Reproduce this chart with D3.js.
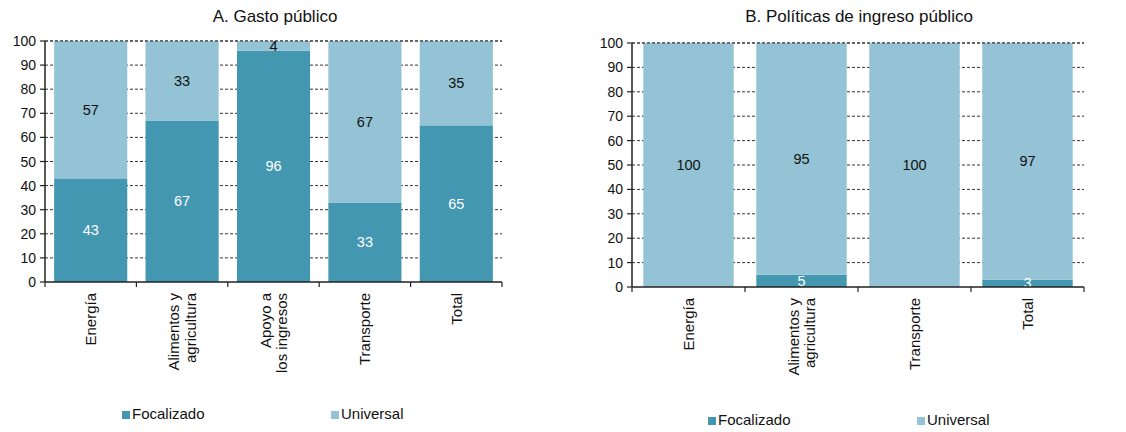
<!DOCTYPE html>
<html><head><meta charset="utf-8">
<script src="https://cdn.jsdelivr.net/npm/d3@7"></script>
<style>body{margin:0;background:#fff}svg{display:block;font-family:"Liberation Sans",Arial,sans-serif}</style>
</head><body><svg id="c" width="1126" height="432"></svg>
<script>
const catsA = [["Energía"],["Alimentos y","agricultura"],["Apoyo a","los ingresos"],["Transporte"],["Total"]];
const focA = [43,67,96,33,65];
const uniA = [57,33,4,67,35];
const catsB = [["Energía"],["Alimentos y","agricultura"],["Transporte"],["Total"]];
const focB = [0,5,0,3];
const uniB = [100,95,100,97];
const yTicks = [0,10,20,30,40,50,60,70,80,90,100];
const seriesNames = ["Focalizado","Universal"];
const colors = ["#4397b0","#93c3d5"];

const svg = d3.select("#c");

function panel(cfg){
  const {title, cats, foc, uni, x0, x1, yTop, yBot, titleX, legend} = cfg;
  const g = svg.append("g");
  const x = d3.scaleBand().domain(d3.range(cats.length)).range([x0,x1]).paddingInner(0.2).paddingOuter(0.1);
  const y = d3.scaleLinear().domain([0,100]).range([yBot,yTop]);
  const step = x.step();
  g.selectAll("line.grid").data(yTicks.filter(d=>d>0)).join("line")
    .attr("x1",x0).attr("x2",x1).attr("y1",d=>y(d)).attr("y2",d=>y(d))
    .attr("stroke","#333").attr("stroke-width",1).attr("stroke-dasharray","3,2");
  const idx = d3.range(cats.length);
  g.selectAll("rect.f").data(idx).join("rect")
    .attr("x",i=>x(i)).attr("width",x.bandwidth())
    .attr("y",i=>y(foc[i])).attr("height",i=>y(0)-y(foc[i])).attr("fill",colors[0]);
  g.selectAll("rect.u").data(idx).join("rect")
    .attr("x",i=>x(i)).attr("width",x.bandwidth())
    .attr("y",i=>y(foc[i]+uni[i])).attr("height",i=>y(foc[i])-y(foc[i]+uni[i])).attr("fill",colors[1]);
  g.append("line").attr("x1",x0).attr("x2",x1).attr("y1",y(100)).attr("y2",y(100))
    .attr("stroke","#333").attr("stroke-width",1).attr("stroke-dasharray","3,2");
  idx.forEach(i=>{
    if(foc[i]>0) g.append("text").attr("x",x(i)+x.bandwidth()/2).attr("y",y(foc[i]/2))
      .attr("text-anchor","middle").attr("dominant-baseline","central").attr("fill","#fff")
      .attr("font-size",14.5).text(foc[i]);
    if(uni[i]>0) g.append("text").attr("x",x(i)+x.bandwidth()/2).attr("y",y(foc[i]+uni[i]/2))
      .attr("text-anchor","middle").attr("dominant-baseline","central").attr("fill","#111")
      .attr("font-size",14.5).text(uni[i]);
  });
  g.append("line").attr("x1",x0).attr("x2",x0).attr("y1",y(100)).attr("y2",y(0)).attr("stroke","#222").attr("stroke-width",1.5);
  g.selectAll("line.yt").data(yTicks).join("line")
    .attr("x1",x0-5).attr("x2",x0).attr("y1",d=>y(d)).attr("y2",d=>y(d)).attr("stroke","#222").attr("stroke-width",1.2);
  g.selectAll("text.yl").data(yTicks).join("text")
    .attr("x",x0-9).attr("y",d=>y(d)).attr("text-anchor","end").attr("dominant-baseline","central")
    .attr("font-size",14).attr("fill","#111").text(d=>d);
  g.append("line").attr("x1",x0).attr("x2",x1).attr("y1",y(0)).attr("y2",y(0)).attr("stroke","#222").attr("stroke-width",1.5);
  g.selectAll("line.xt").data(d3.range(cats.length+1)).join("line")
    .attr("x1",i=>x0+i*step).attr("x2",i=>x0+i*step).attr("y1",y(0)).attr("y2",y(0)+5).attr("stroke","#222").attr("stroke-width",1.2);
  idx.forEach(i=>{
    const lines = cats[i];
    const cx = x(i)+x.bandwidth()/2;
    const lh = 16.5;
    const t = g.append("text").attr("transform",`translate(${cx},${y(0)+11}) rotate(-90)`)
      .attr("text-anchor","end").attr("font-size",15).attr("fill","#111");
    lines.forEach((l,k)=>{
      t.append("tspan").attr("x",0).attr("y",(k-(lines.length-1)/2)*lh).attr("dy","0.35em").text(l);
    });
  });
  g.append("text").attr("x",titleX).attr("y",22).attr("text-anchor","middle").attr("font-size",17).attr("fill","#111").text(title);
  legend.forEach((L,k)=>{
    g.append("rect").attr("x",L.x).attr("y",L.y-8).attr("width",8).attr("height",8).attr("fill",colors[k]);
    g.append("text").attr("x",L.x+10).attr("y",L.y).attr("font-size",15).attr("fill","#111").text(seriesNames[k]);
  });
}

panel({title:"A. Gasto público", cats:catsA, foc:focA, uni:uniA, x0:45, x1:502, yTop:41, yBot:282, titleX:275,
  legend:[{x:122,y:419},{x:331,y:419}]});
panel({title:"B. Políticas de ingreso público", cats:catsB, foc:focB, uni:uniB, x0:632, x1:1084, yTop:43, yBot:287, titleX:859,
  legend:[{x:708,y:425},{x:917,y:425}]});
</script></body></html>
